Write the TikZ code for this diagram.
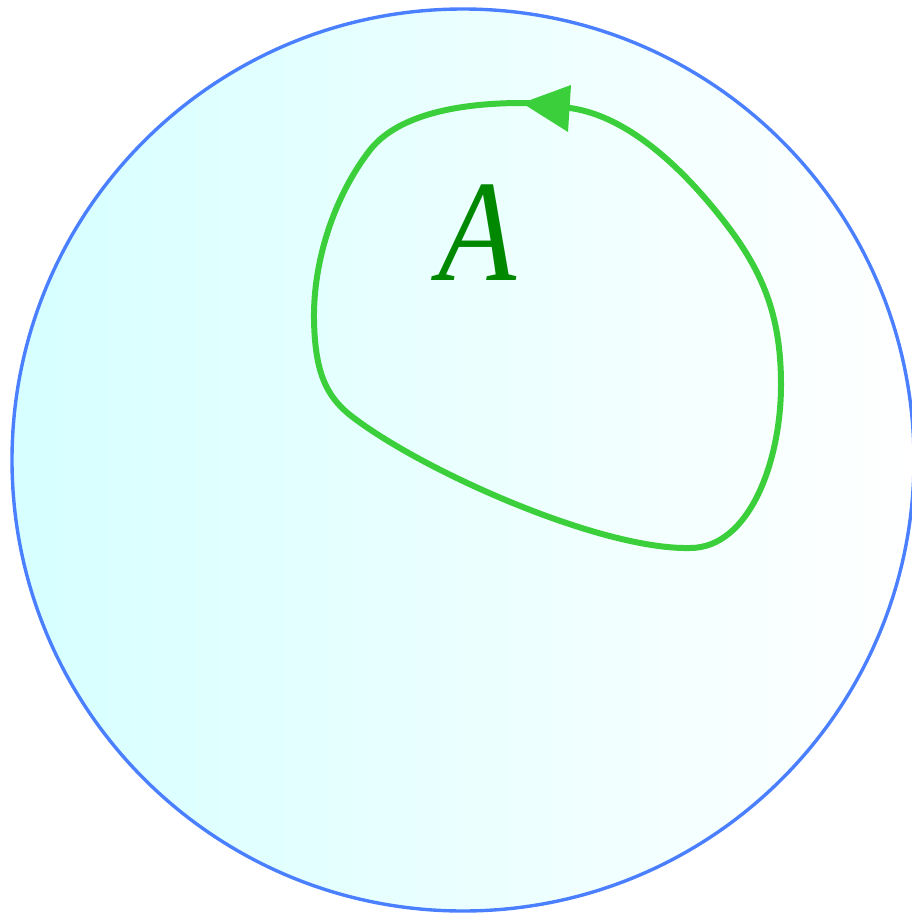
\documentclass[tikz,border=0pt]{standalone}
\usepackage{fontspec}
\setmainfont{Liberation Serif}
\definecolor{rimblue}{HTML}{4A80FF}
\definecolor{loopgreen}{HTML}{3CCF3C}
\definecolor{labelgreen}{HTML}{008800}
\begin{document}
\begin{tikzpicture}[x=1pt,y=-1pt,
  rim/.style={draw=rimblue,line width=3.4pt,left color=cyan!16,right color=white},
  loopline/.style={draw=loopgreen,line width=6pt},
  tip/.style={fill=loopgreen,draw=none}]
\useasboundingbox (0,0) rectangle (912,916);
\begin{scope}
\clip (0,0) rectangle (912,916);
\path[rim] (463,460) circle[radius=451];
\end{scope}
\draw[loopline] (522,103) .. controls (450,103) and (395,118) .. (370,150)
  .. controls (335,195) and (313,260) .. (314,320)
  .. controls (315,370) and (325,395) .. (350,415)
  .. controls (420,470) and (600,550) .. (690,548)
  .. controls (750,548) and (781,460) .. (781,385)
  .. controls (781,310) and (760,265) .. (715,210)
  .. controls (670,155) and (620,115) .. (570,108)
  .. controls (550,105) and (535,103) .. (522,103) -- cycle;
\fill[tip] (522,103) -- (571,85) -- (568,132) -- cycle;
\node[text=labelgreen,xscale=0.88,font=\fontsize{145}{150}\selectfont\itshape] (lbl) at (477,233) {A};
\end{tikzpicture}
\end{document}
